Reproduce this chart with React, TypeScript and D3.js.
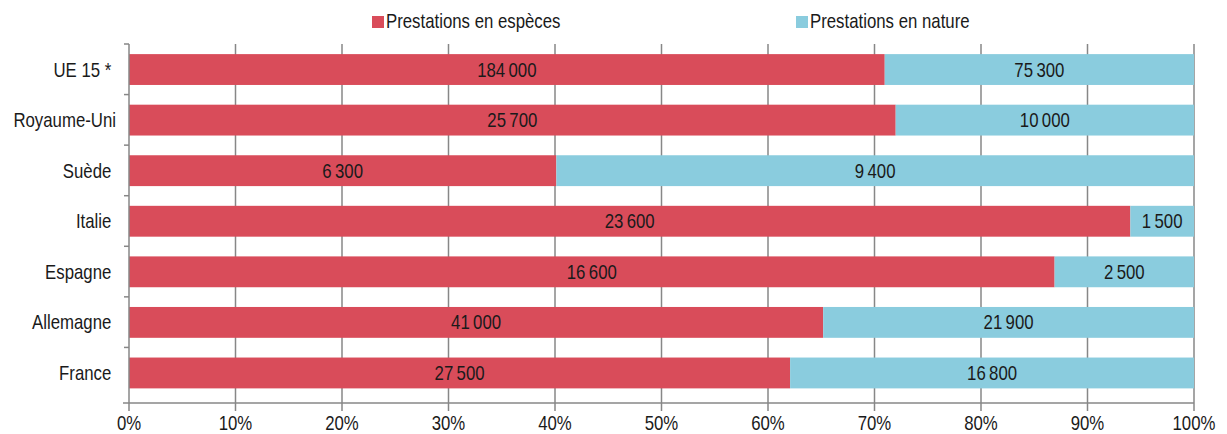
import React from "react";
import * as d3 from "d3";

const categories = ["UE 15 *", "Royaume-Uni", "Suède", "Italie", "Espagne", "Allemagne", "France"];
const especes = [184000, 25700, 6300, 23600, 16600, 41000, 27500];
const nature = [75300, 10000, 9400, 1500, 2500, 21900, 16800];
const xTicks = [0, 0.1, 0.2, 0.3, 0.4, 0.5, 0.6, 0.7, 0.8, 0.9, 1];
const seriesNames = ["Prestations en espèces", "Prestations en nature"];
const colors = ["#D94C5A", "#8ACCDE"];

const W = 1227, H = 434;
const left = 129, right = 1194, top = 44, bottom = 403;
const FONT = "'Liberation Sans', Arial, sans-serif";
const FS = 20;
const SX = 0.84;
const fmt = (v: number) => d3.format(",")(v).replace(/,/g, "\u202F");

function T({ x, y, anchor = "start", children }: { x: number; y: number; anchor?: string; children: React.ReactNode }) {
  return (
    <text
      transform={`translate(${x},${y}) scale(${SX},1)`}
      textAnchor={anchor}
      fontSize={FS}
      fill="#1a1a1a"
      style={{ whiteSpace: "pre" }}
    >
      {children}
    </text>
  );
}

export default function App() {
  const x = d3.scaleLinear().domain([0, 1]).range([left, right]);
  const y = d3.scaleBand<string>().domain(categories).range([top, 398.5]).paddingInner(0.39).paddingOuter(0.2);
  const bw = y.bandwidth();
  const step = y.step();
  const axisColor = "#878787";
  return (
    <svg width={W} height={H} style={{ position: "absolute", left: 0, top: 0, background: "#fff" }} fontFamily={FONT}>
      {xTicks.slice(1).map((t) => (
        <line key={"g" + t} x1={x(t)} x2={x(t)} y1={top} y2={bottom + 8} stroke={axisColor} strokeWidth={1.5} />
      ))}
      {categories.map((c, i) => {
        const total = especes[i] + nature[i];
        const s = especes[i] / total;
        const y0 = y(c)!;
        const cy = y0 + bw / 2 + 7;
        return (
          <g key={c}>
            <rect x={x(0)} y={y0} width={x(s) - x(0)} height={bw} fill={colors[0]} />
            <rect x={x(s)} y={y0} width={x(1) - x(s)} height={bw} fill={colors[1]} />
            <T x={(x(0) + x(s)) / 2} y={cy} anchor="middle">{fmt(especes[i])}</T>
            <T x={(x(s) + x(1)) / 2} y={cy} anchor="middle">{fmt(nature[i])}</T>
            <T x={left - 13} y={cy} anchor="end">{c.length > 10 ? c : c + " "}</T>
          </g>
        );
      })}
      <line x1={left} x2={left} y1={top} y2={bottom + 8} stroke={axisColor} strokeWidth={1.5} />
      {categories.map((c, i) => (
        <line key={"yt" + i} x1={left - 5} x2={left} y1={top + i * step} y2={top + i * step} stroke={axisColor} strokeWidth={1.5} />
      ))}
      <line x1={left - 6} x2={right} y1={bottom} y2={bottom} stroke={axisColor} strokeWidth={1.5} />
      {xTicks.map((t) => (
        <T key={"xl" + t} x={x(t)} y={430} anchor="middle">{d3.format(".0%")(t)}</T>
      ))}
      <rect x={372} y={16} width={12} height={12} fill={colors[0]} />
      <T x={386} y={28}>{seriesNames[0]}</T>
      <rect x={796} y={16} width={12} height={12} fill={colors[1]} />
      <T x={810} y={28}>{seriesNames[1]}</T>
    </svg>
  );
}
